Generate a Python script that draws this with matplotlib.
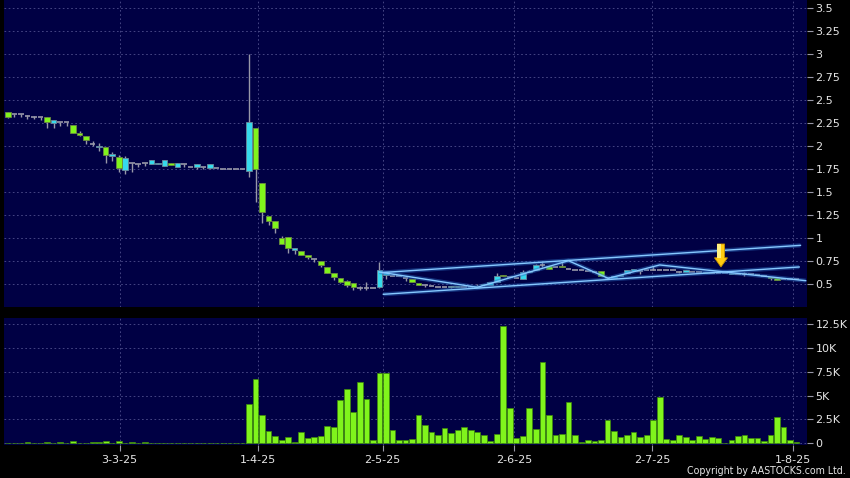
import matplotlib
matplotlib.use('Agg')
import matplotlib.pyplot as plt
import numpy as np

# ---------------- data (daily bars, index 0..121) ----------------
opens = [2.37, 2.35, 2.35, 2.33, 2.32, 2.31, 2.31, 2.245, 2.265, 2.26,
         2.225, 2.14, 2.105, 2.02, 1.985, 1.985, 1.89, 1.877, 1.74, 1.82,
         1.80, 1.815, 1.805, 1.80, 1.78, 1.82, 1.77, 1.80, 1.775, 1.775,
         1.775, 1.757, 1.76, 1.75, 1.75, 1.75, 1.745, 1.73, 2.20, 1.595,
         1.24, 1.19, 1.005, 1.01, 0.87, 0.86, 0.82, 0.775, 0.745, 0.69,
         0.617, 0.56, 0.53, 0.508, 0.46, 0.46, 0.46, 0.465, 0.598, 0.59,
         0.585, 0.57, 0.553, 0.51, 0.49, 0.478, 0.47, 0.47, 0.465, 0.465,
         0.465, 0.465, 0.465, 0.485, 0.49, 0.518, 0.60, 0.575, 0.57, 0.55,
         0.635, 0.652, 0.71, 0.70, 0.68, 0.70, 0.66, 0.655, 0.655, 0.645,
         0.635, 0.638, 0.57, 0.57, 0.585, 0.615, 0.64, 0.64, 0.65, 0.65,
         0.65, 0.65, 0.65, 0.632, 0.63, 0.635, 0.635, 0.62, 0.625, 0.625,
         0.625, 0.608, 0.61, 0.61, 0.605, 0.595, 0.59, 0.575, 0.56, 0.55,
         0.55, 0.55]
closes = [2.31, 2.35, 2.35, 2.33, 2.32, 2.31, 2.26, 2.28, 2.265, 2.26,
          2.14, 2.115, 2.07, 2.02, 2.0, 1.90, 1.91, 1.757, 1.866, 1.82,
          1.80, 1.815, 1.845, 1.82, 1.845, 1.79, 1.81, 1.80, 1.775, 1.80,
          1.775, 1.80, 1.76, 1.75, 1.75, 1.75, 1.745, 2.26, 1.747, 1.285,
          1.19, 1.105, 0.94, 0.89, 0.895, 0.81, 0.79, 0.775, 0.71, 0.625,
          0.573, 0.525, 0.49, 0.465, 0.46, 0.46, 0.46, 0.65, 0.63, 0.59,
          0.585, 0.57, 0.52, 0.485, 0.49, 0.478, 0.47, 0.47, 0.475, 0.475,
          0.465, 0.465, 0.48, 0.495, 0.525, 0.587, 0.585, 0.575, 0.57, 0.63,
          0.645, 0.706, 0.71, 0.663, 0.68, 0.68, 0.66, 0.655, 0.655, 0.645,
          0.635, 0.585, 0.57, 0.585, 0.60, 0.65, 0.66, 0.64, 0.65, 0.65,
          0.65, 0.65, 0.65, 0.632, 0.65, 0.635, 0.635, 0.635, 0.625, 0.625,
          0.625, 0.625, 0.61, 0.61, 0.605, 0.595, 0.59, 0.56, 0.54, 0.55,
          0.55, 0.55]
highs = [2.37, 2.35, 2.35, 2.34, 2.33, 2.31, 2.31, 2.28, 2.265, 2.26,
         2.225, 2.16, 2.105, 2.05, 2.03, 1.985, 1.93, 1.90, 1.89, 1.82,
         1.80, 1.815, 1.845, 1.82, 1.845, 1.82, 1.81, 1.80, 1.775, 1.80,
         1.775, 1.80, 1.76, 1.75, 1.75, 1.75, 1.745, 3.0, 2.20, 1.60,
         1.24, 1.19, 1.02, 1.01, 0.895, 0.86, 0.82, 0.775, 0.745, 0.69,
         0.617, 0.56, 0.54, 0.508, 0.48, 0.52, 0.46, 0.74, 0.63, 0.59,
         0.585, 0.57, 0.553, 0.51, 0.49, 0.478, 0.47, 0.47, 0.475, 0.475,
         0.465, 0.465, 0.50, 0.495, 0.525, 0.62, 0.60, 0.575, 0.57, 0.65,
         0.65, 0.72, 0.74, 0.70, 0.68, 0.74, 0.66, 0.655, 0.655, 0.645,
         0.635, 0.638, 0.57, 0.585, 0.60, 0.65, 0.66, 0.64, 0.65, 0.70,
         0.65, 0.65, 0.65, 0.64, 0.65, 0.635, 0.635, 0.635, 0.625, 0.625,
         0.625, 0.625, 0.61, 0.63, 0.605, 0.595, 0.59, 0.58, 0.56, 0.55,
         0.55, 0.55]
lows = [2.30, 2.31, 2.32, 2.29, 2.29, 2.28, 2.20, 2.20, 2.22, 2.22,
        2.14, 2.11, 2.02, 2.00, 1.95, 1.82, 1.84, 1.72, 1.70, 1.72,
        1.77, 1.78, 1.80, 1.80, 1.78, 1.79, 1.77, 1.77, 1.775, 1.75,
        1.75, 1.75, 1.76, 1.75, 1.75, 1.75, 1.745, 1.66, 1.395, 1.16,
        1.14, 1.05, 0.93, 0.84, 0.83, 0.81, 0.77, 0.74, 0.68, 0.62,
        0.54, 0.51, 0.47, 0.44, 0.44, 0.44, 0.46, 0.46, 0.55, 0.59,
        0.585, 0.535, 0.52, 0.485, 0.47, 0.478, 0.47, 0.47, 0.46, 0.465,
        0.465, 0.465, 0.465, 0.48, 0.49, 0.518, 0.585, 0.575, 0.57, 0.55,
        0.63, 0.652, 0.69, 0.663, 0.68, 0.68, 0.66, 0.655, 0.655, 0.645,
        0.635, 0.585, 0.57, 0.57, 0.585, 0.615, 0.64, 0.61, 0.65, 0.65,
        0.65, 0.65, 0.65, 0.62, 0.63, 0.635, 0.635, 0.62, 0.625, 0.625,
        0.625, 0.608, 0.61, 0.59, 0.605, 0.595, 0.59, 0.54, 0.54, 0.55,
        0.55, 0.55]
volumes = [70, 70, 20, 140, 30, 50, 140, 30, 140, 50,
           200, 40, 30, 140, 140, 280, 50, 200, 50, 140,
           50, 100, 40, 30, 30, 30, 80, 40, 0, 0,
           0, 0, 0, 0, 0, 0, 0, 4100, 6770, 2950,
           1290, 730, 310, 630, 140, 1220, 590, 660, 730, 1800,
           1670, 4510, 5730, 3300, 6420, 4690, 310, 7360, 7360, 1390,
           310, 350, 450, 3020, 1880, 1220, 870, 1600, 1040, 1350,
           1670, 1390, 1180, 870, 210, 1010, 12330, 3720, 520, 730,
           3680, 1490, 8580, 2990, 830, 970, 4310, 830, 170, 310,
           210, 380, 2400, 1320, 630, 870, 1180, 630, 830, 2470,
           4860, 420, 350, 870, 630, 380, 730, 420, 630, 520,
           20, 350, 760, 870, 520, 560, 210, 870, 2710, 1670,
           310, 140]

date_tick_pos = [17.15, 38.4, 57.5, 77.7, 98.8, 120.4]
date_labels = ['3-3-25', '1-4-25', '2-5-25', '2-6-25', '2-7-25', '1-8-25']
price_ticks = [0.5, 0.75, 1, 1.25, 1.5, 1.75, 2, 2.25, 2.5, 2.75, 3, 3.25, 3.5]
price_tick_labels = ['0.5', '0.75', '1', '1.25', '1.5', '1.75', '2', '2.25',
                     '2.5', '2.75', '3', '3.25', '3.5']
vol_ticks = [0, 2500, 5000, 7500, 10000, 12500]
vol_tick_labels = ['0', '2.5K', '5K', '7.5K', '10K', '12.5K']

# trend annotations (index, price)
chan_up_x, chan_up_y = [57.5, 121.6], [0.625, 0.92]
chan_lo_x, chan_lo_y = [57.6, 121.4], [0.388, 0.685]
zig_x = [57.0, 72.0, 86.0, 92.1, 100.0, 122.4]
zig_y = [0.63, 0.464, 0.753, 0.562, 0.707, 0.536]
arrow_idx, arrow_top, arrow_tip = 109.4, 0.935, 0.685

# ---------------- style ----------------
BG = '#000044'
CYAN = '#36DAEC'
GREEN = '#80F41C'
GRAY = '#9898A8'
GRID = '#50508E'
TXT = '#E6E6E6'

x = np.arange(len(opens))
o = np.array(opens); c = np.array(closes)
h = np.array(highs); l = np.array(lows)
v = np.array(volumes)

fig = plt.figure(figsize=(8.5, 4.78), dpi=100, facecolor='black')
W, H = 850.0, 478.0
ax = fig.add_axes([4 / W, 1 - 307 / H, 803 / W, 307 / H])
axv = fig.add_axes([4 / W, 1 - 445 / H, 803 / W, 127 / H])

for a in (ax, axv):
    a.set_facecolor(BG)
    for s in a.spines.values():
        s.set_visible(False)
    a.set_axisbelow(True)
    a.grid(True, color=GRID, linestyle=(0, (2, 3)), linewidth=0.6)
    a.yaxis.tick_right()
    a.tick_params(axis='y', colors=GRAY, labelcolor=TXT, labelsize=8,
                  length=4, width=0.8, pad=2, direction='out')
    a.set_xlim(-0.6, 122.6)
    a.set_xticks(date_tick_pos)

# ---- price candles ----
ax.vlines(x, l, h, color=GRAY, linewidth=1.0, zorder=2)
up = c > o
dn = c < o
eq = c == o
bw = 0.86
ax.bar(x[up], (c - o)[up], bottom=o[up], width=bw, color=CYAN,
       edgecolor='#6A8A9A', linewidth=0.6, zorder=3)
ax.bar(x[dn], (o - c)[dn], bottom=c[dn], width=bw, color=GREEN,
       edgecolor='#6A8A40', linewidth=0.6, zorder=3)
ax.hlines(c[eq], x[eq] - bw / 2, x[eq] + bw / 2, color=GRAY, linewidth=1.2,
          zorder=3)

# ---- channel / zigzag lines with glow ----
for xs, ys in ((chan_up_x, chan_up_y), (chan_lo_x, chan_lo_y), (zig_x, zig_y)):
    ax.plot(xs, ys, color='#2C6CC0', linewidth=3.0, alpha=0.45, zorder=4,
            solid_capstyle='butt')
    ax.plot(xs, ys, color='#86C8FF', linewidth=1.0, zorder=5)

# ---- yellow arrow ----
shaft_w = 0.55
head_w = 1.0
head_h = 0.10
ax_x = [arrow_idx - shaft_w, arrow_idx + shaft_w, arrow_idx + shaft_w,
        arrow_idx + head_w, arrow_idx, arrow_idx - head_w, arrow_idx - shaft_w]
ax_y = [arrow_top, arrow_top, arrow_tip + head_h, arrow_tip + head_h,
        arrow_tip, arrow_tip + head_h, arrow_tip + head_h]
ax.fill(ax_x, ax_y, color='#FFCC10', edgecolor='#C89000', linewidth=0.6,
        zorder=6)
ax.fill([arrow_idx - shaft_w, arrow_idx - shaft_w * 0.1,
         arrow_idx - shaft_w * 0.1, arrow_idx - shaft_w],
        [arrow_top, arrow_top, arrow_tip + head_h, arrow_tip + head_h],
        color='#FFF080', linewidth=0, zorder=7)

ax.set_ylim(0.25, 3.587)
ax.set_yticks(price_ticks)
ax.set_yticklabels(price_tick_labels)
ax.tick_params(axis='x', length=0, labelbottom=False)

# ---- volume ----
axv.bar(x, v, width=0.88, color=GREEN, edgecolor='#3E8A0A', linewidth=0.5,
        zorder=3)
axv.set_ylim(-180, 13160)
axv.set_yticks(vol_ticks)
axv.set_yticklabels(vol_tick_labels)
axv.set_xticklabels(date_labels)
axv.tick_params(axis='x', colors=GRAY, labelcolor=TXT, labelsize=8,
                length=4, width=0.8, pad=3, direction='out')

fig.text(846 / W, 1 - 471 / H, 'Copyright by AASTOCKS.com Ltd.',
         ha='right', va='center', fontsize=7.6, color=TXT,
         family='DejaVu Sans', fontstretch='condensed')

fig.savefig('out.png', dpi=100, facecolor='black')
